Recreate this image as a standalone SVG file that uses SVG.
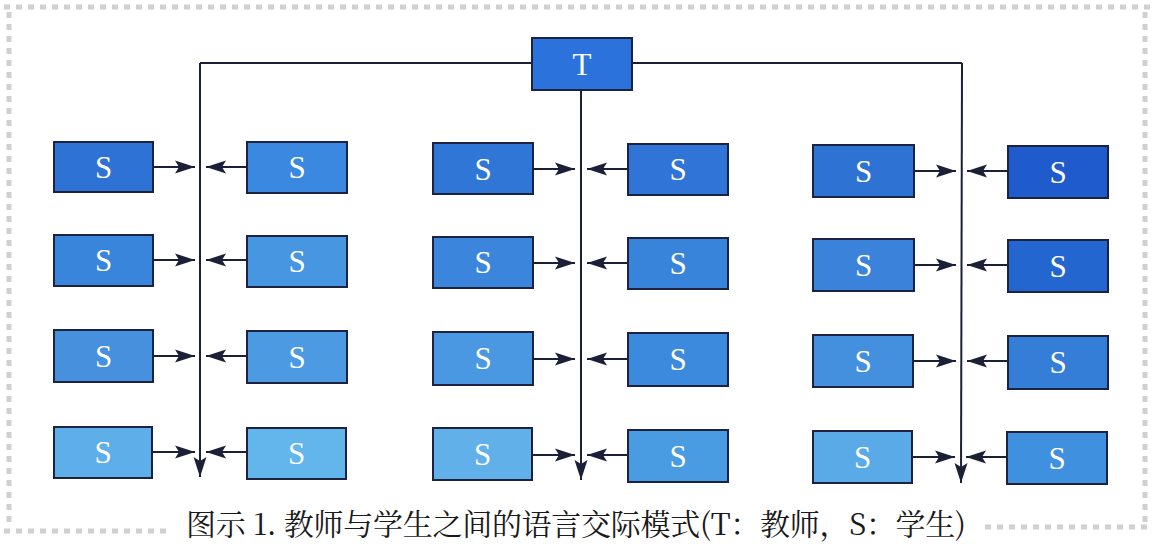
<svg xmlns="http://www.w3.org/2000/svg" width="1156" height="544" viewBox="0 0 1156 544">
<style>
.box{stroke:#1b2340;stroke-width:2}
.lbl{font-family:"Liberation Serif",serif;font-size:31px;fill:#ffffff;text-anchor:middle;dominant-baseline:central}
.ln{stroke:#1b2036;stroke-width:2;fill:none}
.brd{stroke:#d0d0d0;stroke-width:5;stroke-dasharray:6 6;fill:none}
.cap{font-family:"Noto Serif CJK SC","Noto Sans CJK SC",serif;font-size:30px;fill:#1a1a1a}
</style>
<defs>
<marker id="ah" viewBox="0 0 20 14" markerWidth="20" markerHeight="14" refX="20" refY="7" orient="auto" markerUnits="userSpaceOnUse">
<path d="M0,0.5 L20,7 L0,13.5 L4,7 z" fill="#1b2036"/>
</marker>
</defs>
<rect width="1156" height="544" fill="#ffffff"/>
<g id="border">
<line class="brd" x1="4" y1="7" x2="1150" y2="7"/>
<line class="brd" x1="9" y1="12" x2="9" y2="528"/>
<line class="brd" x1="1145" y1="12" x2="1145" y2="528"/>
<line class="brd" x1="4" y1="531" x2="172" y2="531"/>
<line class="brd" x1="985" y1="527" x2="1150" y2="527"/>
</g>
<g id="connectors">
<line class="ln" x1="200" y1="63" x2="532" y2="63"/>
<line class="ln" x1="632" y1="63" x2="962" y2="63"/>
<line class="ln" x1="200" y1="63" x2="200" y2="477" marker-end="url(#ah)"/>
<line class="ln" x1="581" y1="90" x2="581" y2="480" marker-end="url(#ah)"/>
<line class="ln" x1="962" y1="63" x2="961" y2="483" marker-end="url(#ah)"/>
<line class="ln" x1="153" y1="167" x2="195" y2="167" marker-end="url(#ah)"/>
<line class="ln" x1="247" y1="167" x2="206" y2="167" marker-end="url(#ah)"/>
<line class="ln" x1="153" y1="260" x2="195" y2="260" marker-end="url(#ah)"/>
<line class="ln" x1="247" y1="260" x2="206" y2="260" marker-end="url(#ah)"/>
<line class="ln" x1="153" y1="356" x2="195" y2="356" marker-end="url(#ah)"/>
<line class="ln" x1="247" y1="356" x2="206" y2="356" marker-end="url(#ah)"/>
<line class="ln" x1="153" y1="452" x2="195" y2="452" marker-end="url(#ah)"/>
<line class="ln" x1="247" y1="452" x2="206" y2="452" marker-end="url(#ah)"/>
<line class="ln" x1="533" y1="169" x2="575" y2="169" marker-end="url(#ah)"/>
<line class="ln" x1="628" y1="169" x2="587" y2="169" marker-end="url(#ah)"/>
<line class="ln" x1="533" y1="263" x2="575" y2="263" marker-end="url(#ah)"/>
<line class="ln" x1="628" y1="263" x2="587" y2="263" marker-end="url(#ah)"/>
<line class="ln" x1="533" y1="359" x2="575" y2="359" marker-end="url(#ah)"/>
<line class="ln" x1="628" y1="359" x2="587" y2="359" marker-end="url(#ah)"/>
<line class="ln" x1="533" y1="455" x2="575" y2="455" marker-end="url(#ah)"/>
<line class="ln" x1="628" y1="455" x2="587" y2="455" marker-end="url(#ah)"/>
<line class="ln" x1="914" y1="171" x2="956" y2="171" marker-end="url(#ah)"/>
<line class="ln" x1="1008" y1="171" x2="967" y2="171" marker-end="url(#ah)"/>
<line class="ln" x1="914" y1="265" x2="956" y2="265" marker-end="url(#ah)"/>
<line class="ln" x1="1008" y1="265" x2="967" y2="265" marker-end="url(#ah)"/>
<line class="ln" x1="913" y1="361" x2="956" y2="361" marker-end="url(#ah)"/>
<line class="ln" x1="1008" y1="361" x2="967" y2="361" marker-end="url(#ah)"/>
<line class="ln" x1="913" y1="457" x2="955" y2="457" marker-end="url(#ah)"/>
<line class="ln" x1="1007" y1="457" x2="966" y2="457" marker-end="url(#ah)"/>
</g>
<g id="T"><rect class="box" x="532" y="38" width="100" height="52" fill="#2b72dc"/><text class="lbl" x="582" y="64">T</text></g>
<g id="s1"><rect class="box" x="54" y="142" width="99" height="50" fill="#2f72d5"/><text class="lbl" x="103.5" y="167">S</text></g>
<g id="s2"><rect class="box" x="247" y="142" width="100" height="51" fill="#3a88df"/><text class="lbl" x="297" y="167">S</text></g>
<g id="s3"><rect class="box" x="54" y="235" width="99" height="51" fill="#3a85dc"/><text class="lbl" x="103.5" y="260">S</text></g>
<g id="s4"><rect class="box" x="247" y="236" width="100" height="51" fill="#4696e2"/><text class="lbl" x="297" y="261">S</text></g>
<g id="s5"><rect class="box" x="54" y="330" width="99" height="52" fill="#4690de"/><text class="lbl" x="103.5" y="356">S</text></g>
<g id="s6"><rect class="box" x="247" y="331" width="100" height="52" fill="#4b9ae2"/><text class="lbl" x="297" y="357">S</text></g>
<g id="s7"><rect class="box" x="54" y="427" width="98" height="51" fill="#5eaee9"/><text class="lbl" x="103" y="452">S</text></g>
<g id="s8"><rect class="box" x="247" y="428" width="99" height="51" fill="#62b6ec"/><text class="lbl" x="296.5" y="453">S</text></g>
<g id="s9"><rect class="box" x="433" y="143" width="100" height="51" fill="#2f76d6"/><text class="lbl" x="483" y="169">S</text></g>
<g id="s10"><rect class="box" x="628" y="144" width="100" height="51" fill="#2f74d6"/><text class="lbl" x="678" y="169">S</text></g>
<g id="s11"><rect class="box" x="433" y="237" width="100" height="51" fill="#3b86dc"/><text class="lbl" x="483" y="262">S</text></g>
<g id="s12"><rect class="box" x="628" y="238" width="100" height="51" fill="#3884db"/><text class="lbl" x="678" y="263">S</text></g>
<g id="s13"><rect class="box" x="433" y="332" width="100" height="53" fill="#4a98e2"/><text class="lbl" x="483" y="358">S</text></g>
<g id="s14"><rect class="box" x="628" y="333" width="100" height="53" fill="#3c8ade"/><text class="lbl" x="678" y="359">S</text></g>
<g id="s15"><rect class="box" x="433" y="428" width="99" height="52" fill="#62b0ea"/><text class="lbl" x="482.5" y="454">S</text></g>
<g id="s16"><rect class="box" x="628" y="430" width="100" height="52" fill="#4a9ce2"/><text class="lbl" x="678" y="456">S</text></g>
<g id="s17"><rect class="box" x="813" y="145" width="101" height="52" fill="#2e72d4"/><text class="lbl" x="863.5" y="171">S</text></g>
<g id="s18"><rect class="box" x="1008" y="146" width="100" height="52" fill="#1f5bcc"/><text class="lbl" x="1058" y="172">S</text></g>
<g id="s19"><rect class="box" x="813" y="239" width="101" height="52" fill="#3a82da"/><text class="lbl" x="863.5" y="265">S</text></g>
<g id="s20"><rect class="box" x="1008" y="240" width="100" height="52" fill="#2466d0"/><text class="lbl" x="1058" y="266">S</text></g>
<g id="s21"><rect class="box" x="813" y="335" width="100" height="52" fill="#4490de"/><text class="lbl" x="863" y="361">S</text></g>
<g id="s22"><rect class="box" x="1008" y="336" width="100" height="53" fill="#347ed8"/><text class="lbl" x="1058" y="362">S</text></g>
<g id="s23"><rect class="box" x="813" y="431" width="99" height="52" fill="#5aaae8"/><text class="lbl" x="862.5" y="457">S</text></g>
<g id="s24"><rect class="box" x="1007" y="432" width="100" height="52" fill="#3f90de"/><text class="lbl" x="1057" y="458">S</text></g>
<text class="cap" x="186" y="535" textLength="780" lengthAdjust="spacing">图示 1. 教师与学生之间的语言交际模式(T：教师，S：学生)</text>
</svg>
